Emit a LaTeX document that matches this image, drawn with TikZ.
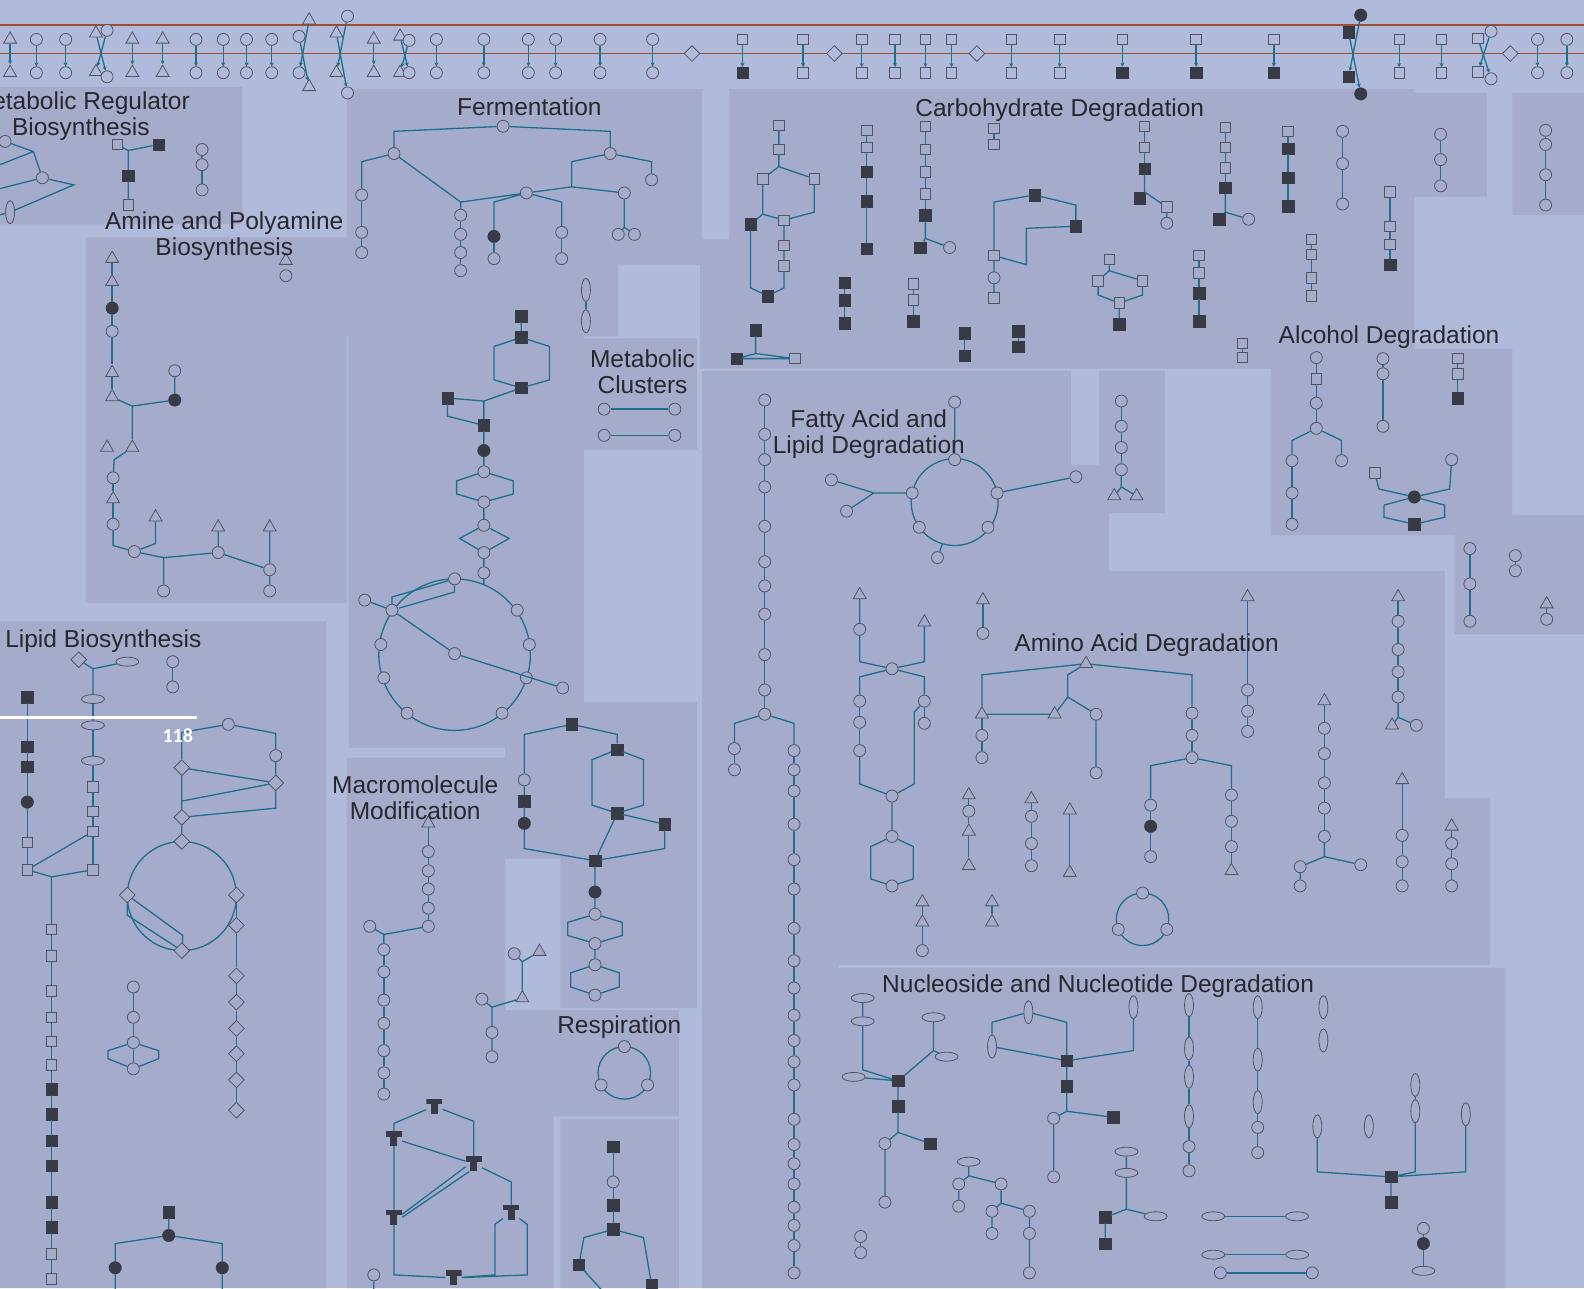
\documentclass[tikz,border=0pt]{standalone}
\usepackage{fontspec}
\setmainfont{Liberation Sans}
\newfontfamily\badgefont{Carlito}
\usetikzlibrary{shapes.geometric, arrows.meta, positioning}

\definecolor{bgc}{RGB}{176,186,219}
\definecolor{panelc}{RGB}{165,172,203}
\definecolor{linkc}{RGB}{30,110,140}
\definecolor{edgec}{RGB}{82,84,98}
\definecolor{darkc}{RGB}{56,58,70}
\definecolor{railc}{RGB}{160,78,48}
\definecolor{labelc}{RGB}{40,40,46}
\colorlet{openc}{panelc}

\tikzset{
  link/.style={draw=linkc, line width=1.3pt},
  rail/.style={draw=railc, line width=1.8pt},
  circ/.style={circle, draw=edgec, fill=openc, line width=.8pt, minimum size=12pt, inner sep=0pt},
  fcirc/.style={circle, draw=darkc, fill=darkc, minimum size=12.5pt, inner sep=0pt},
  sq/.style={rectangle, draw=edgec, fill=openc, line width=.8pt, minimum size=10.5pt, inner sep=0pt},
  fsq/.style={rectangle, draw=darkc, fill=darkc, minimum size=11.5pt, inner sep=0pt},
  tri/.style={regular polygon, regular polygon sides=3, draw=edgec, fill=openc, line width=.8pt, minimum size=15pt, inner sep=0pt},
  dia/.style={diamond, draw=edgec, fill=openc, line width=.8pt, minimum size=16pt, inner sep=0pt},
  hoval/.style={ellipse, draw=edgec, fill=openc, line width=.8pt, minimum width=23pt, minimum height=9pt, inner sep=0pt},
  voval/.style={ellipse, draw=edgec, fill=openc, line width=.8pt, minimum width=9pt, minimum height=23pt, inner sep=0pt},
  tee/.style={rectangle, minimum width=16pt, minimum height=15pt, inner sep=0pt,
    path picture={\fill[darkc] (path picture bounding box.north west) rectangle ([yshift=-5.5pt]path picture bounding box.north east);
                  \fill[darkc] ([xshift=-3.5pt]path picture bounding box.north) rectangle ([xshift=3.5pt]path picture bounding box.south);}},
  grouplabel/.style={font=\fontsize{24.5}{26}\selectfont, text=labelc, align=center, inner sep=0pt},
}

% vertical chain: name, x, list of y/style
\newcommand{\vchain}[3]{%
  \foreach \yy/\ss [count=\ii] in {#3} {%
    \node[\ss] at (#2,\yy) (#1\ii) {};%
    \ifnum\ii>1 \pgfmathtruncatemacro{\hh}{\ii-1}\draw[link] (#1\hh) -- (#1\ii);\fi
  }}

\begin{document}
\begin{tikzpicture}[x=1.0102pt, y=-1.0102pt]

    % Draw the background and the panels
    \useasboundingbox (0,0) rectangle (1568,1275);
    \fill[bgc] (0,0) rectangle (1568,1275);
    \fill[panelc] (0,86) rectangle (240,222)
        (85,235) rectangle (343,597)
        (343,88) rectangle (695,262)
        (343,262) rectangle (612,333)
        (345,290) rectangle (578,740)
        (578,335) rectangle (690,445)
        (0,615) rectangle (323,1275)
        (343,750) rectangle (500,1275)
        (500,1000) rectangle (548,1275)
        (500,695) rectangle (690,850)
        (555,850) rectangle (690,998)
        (548,1000) rectangle (672,1105)
        (555,1108) rectangle (672,1275)
        (722,88) rectangle (1400,365)
        (693,237) rectangle (722,365)
        (1400,92) rectangle (1472,195)
        (1497,92) rectangle (1568,213)
        (695,367) rectangle (1060,565)
        (1060,460) rectangle (1098,565)
        (1088,367) rectangle (1153,508)
        (695,565) rectangle (830,1275)
        (820,565) rectangle (1430,955)
        (1430,790) rectangle (1475,955)
        (830,958) rectangle (1490,1275)
        (1258,345) rectangle (1497,530)
        (1440,510) rectangle (1568,628);

    % Draw the transport rail
    \draw[rail] (0,25) -- (1568,25) (0,53) -- (1568,53);
    \begin{scope}
        \colorlet{openc}{bgc}
        \foreach \px/\pu/\pd in {10/tri/tri, 36/circ/circ, 65/circ/circ, 131/tri/tri, 161/tri/tri,
                194/circ/circ, 221/circ/circ, 244/circ/circ, 269/circ/circ, 370/tri/tri,
                432/circ/circ, 479/circ/circ, 523/circ/circ, 550/circ/circ, 594/circ/circ,
                646/circ/circ, 735/sq/fsq, 795/sq/sq, 853/sq/sq, 886/sq/sq, 916/sq/sq,
                942/sq/sq, 1001/sq/sq, 1049/sq/sq, 1111/sq/fsq, 1184/sq/fsq, 1261/sq/fsq,
                1385/sq/sq, 1427/sq/sq, 1522/circ/circ, 1551/circ/circ} {
            \node[\pu] at (\px,39) (up\px) {};
            \node[\pd] at (\px,72) (dn\px) {};
            \draw[link, -{Stealth[length=4pt, width=4pt]}] (up\px) -- (dn\px);
        }
        \foreach \px in {685,826,967,1495} \node[dia] at (\px,53) (rd\px) {};

        \node[tri] at (95,33) (xa1) {};
        \node[circ] at (106,30) (xa2) {};
        \node[tri] at (95,71) (xa3) {};
        \node[circ] at (106,76) (xa4) {};
        \node[circ] at (296,36) (xb1) {};
        \node[tri] at (306,20) (xb2) {};
        \node[circ] at (296,72) (xb3) {};
        \node[tri] at (306,86) (xb4) {};
        \node[tri] at (333,33) (xc1) {};
        \node[circ] at (344,16) (xc2) {};
        \node[tri] at (333,72) (xc3) {};
        \node[circ] at (344,92) (xc4) {};
        \node[tri] at (396,36) (xd1) {};
        \node[circ] at (405,40) (xd2) {};
        \node[tri] at (396,72) (xd3) {};
        \node[circ] at (405,72) (xd4) {};
        \node[fcirc] at (1347,15) (xe1) {};
        \node[fsq] at (1335,32) (xe2) {};
        \node[fsq] at (1335,76) (xe3) {};
        \node[fcirc] at (1347,93) (xe4) {};
        \node[sq] at (1463,38) (xf1) {};
        \node[circ] at (1476,31) (xf2) {};
        \node[sq] at (1463,71) (xf3) {};
        \node[circ] at (1476,78) (xf4) {};
        \draw[link, -{Stealth[length=4pt, width=4pt]}]
            (xa1) edge (xa4) (xa2) edge (xa3)
            (xb2) edge (xb3) (xb1) edge (xb4)
            (xc1) edge (xc4) (xc2) edge (xc3)
            (xd1) edge (xd4) (xd2) edge (xd3)
            (xe1) edge (xe3) (xe2) edge (xe4)
            (xf1) edge (xf4) (xf2) edge (xf3);
    \end{scope}
    \colorlet{openc}{panelc}

    % Metabolic regulator biosynthesis
    \node[circ] at (5,140) (mr1) {};
    \node[circ] at (42,176) (mr2) {};
    \node[voval] at (10,210) (mr3) {};
    \coordinate (mra) at (33,150);
    \coordinate (mrb) at (-5,165);
    \coordinate (mrc) at (-5,188);
    \coordinate (mrd) at (73,183);
    \coordinate (mre) at (-5,214);
    \draw[link] (mr1) -- (mra) -- (mr2) (mrb) -- (mra) (mrc) -- (mr2) -- (mrd) -- (mr3) -- (mre);
    \node[sq] at (116,143) (mr4) {};
    \node[fsq] at (157,143) (mr5) {};
    \node[fsq] at (127,174) (mr6) {};
    \node[sq] at (127,203) (mr7) {};
    \coordinate (mrt) at (127,149);
    \draw[link] (mr4) -- (mrt) -- (mr5) (mrt) -- (mr6) -- (mr7);
    \vchain{mrv}{200}{148/circ,163/circ,188/circ}

    % Amine and polyamine biosynthesis
    \vchain{pa}{111}{256/tri,279/tri,305/fcirc,328/circ,369/tri,393/tri}
    \coordinate (paj) at (131,402);
    \node[fcirc] at (173,396) (pb1) {};
    \node[circ] at (173,367) (pb2) {};
    \node[tri] at (131,443) (pb3) {};
    \node[tri] at (106,443) (pb4) {};
    \coordinate (pbk) at (113,455);
    \draw[link] (pa6) -- (paj) -- (pb1) -- (pb2) (paj) -- (pb3);
    \vchain{pc}{112}{473/circ,494/tri,519/circ}
    \draw[link] (pb3) -- (pbk) -- (pc1);
    \node[circ] at (133,546) (pd1) {};
    \node[tri] at (154,512) (pd2) {};
    \node[circ] at (216,547) (pd3) {};
    \node[circ] at (162,585) (pd4) {};
    \node[tri] at (216,522) (pd5) {};
    \node[circ] at (267,564) (pd6) {};
    \node[circ] at (267,585) (pd7) {};
    \node[tri] at (267,522) (pd8) {};
    \node[tri] at (283,258) (pd9) {};
    \node[circ] at (283,273) (pd10) {};
    \coordinate (pda) at (112,540);
    \coordinate (pdb) at (154,538);
    \coordinate (pdc) at (162,552);
    \draw[link] (pc3) -- (pda) -- (pd1) -- (pdb) -- (pd2)
        (pd1) -- (pdc) -- (pd3) -- (pd5) (pdc) -- (pd4)
        (pd3) -- (pd6) -- (pd7) (pd8) -- (pd6);

    % Fermentation
    \node[circ] at (498,125) (fe1) {};
    \node[circ] at (390,152) (fe2) {};
    \node[circ] at (604,152) (fe3) {};
    \node[circ] at (645,178) (fe4) {};
    \node[circ] at (521,191) (fe5) {};
    \node[circ] at (618,191) (fe6) {};
    \node[circ] at (612,232) (fe7) {};
    \node[circ] at (628,232) (fe8) {};
    \vchain{fl}{358}{193/circ,230/circ,250/circ}
    \vchain{fm}{456}{213/circ,232/circ,250/circ,268/circ}
    \vchain{fn}{489}{234/fcirc,256/circ}
    \vchain{fo}{556}{230/circ,256/circ}
    \vchain{fv}{580}{287/voval,318/voval}
    \coordinate (fxa) at (390,130);
    \coordinate (fxb) at (604,130);
    \coordinate (fxc) at (358,160);
    \coordinate (fxd) at (456,200);
    \coordinate (fxe) at (489,200);
    \coordinate (fxf) at (556,200);
    \coordinate (fxg) at (566,160);
    \coordinate (fxh) at (566,185);
    \coordinate (fxi) at (645,160);
    \coordinate (fxj) at (618,225);
    \draw[link] (fe2) -- (fxa) -- (fe1) -- (fxb) -- (fe3)
        (fe2) -- (fxc) -- (fl1)
        (fe2) -- (fxd) -- (fm1)
        (fxd) -- (fe5) -- (fxe) -- (fn1)
        (fe5) -- (fxf) -- (fo1)
        (fe5) -- (fxh) -- (fe6)
        (fe3) -- (fxg) -- (fxh)
        (fe3) -- (fxi) -- (fe4)
        (fe6) -- (fxj) -- (fe7) (fxj) -- (fe8);

    % Ring pathway under fermentation
    \draw[link] (450,648) circle (75);
    \node[fsq] at (516,313) (bc1) {};
    \node[fsq] at (516,334) (bc2) {};
    \node[fsq] at (516,384) (bc3) {};
    \node[fsq] at (443,394) (bc4) {};
    \node[fsq] at (479,421) (bc5) {};
    \node[fcirc] at (479,446) (bd1) {};
    \node[circ] at (479,467) (bd2) {};
    \node[circ] at (479,497) (bd3) {};
    \node[circ] at (479,520) (bd4) {};
    \node[circ] at (479,547) (bd5) {};
    \node[circ] at (479,567) (bd6) {};
    \coordinate (bcj) at (479,397);
    \coordinate (bcq) at (443,412);
    \coordinate (bdr) at (479,579);
    \draw[link] (bc1) -- (bc2) -- (489,343) -- (489,376) -- (bc3)
        (bc2) -- (544,343) -- (544,376) -- (bc3)
        (bc3) -- (bcj) (bc4) -- (bcj) -- (bc5) (bc4) -- (bcq) -- (bc5)
        (bc5) -- (bd1) -- (bd2)
        (bd2) -- (452,476) -- (452,489) -- (bd3)
        (bd2) -- (508,476) -- (508,489) -- (bd3)
        (bd3) -- (bd4)
        (bd4) -- (455,533) -- (bd5) (bd4) -- (504,533) -- (bd5)
        (bd5) -- (bd6) -- (bdr);
    \node[circ] at (450,573) (br1) {};
    \node[circ] at (388,604) (br2) {};
    \node[circ] at (377,638) (br3) {};
    \node[circ] at (380,671) (br4) {};
    \node[circ] at (403,706) (br5) {};
    \node[circ] at (497,706) (br6) {};
    \node[circ] at (521,671) (br7) {};
    \node[circ] at (524,638) (br8) {};
    \node[circ] at (512,604) (br9) {};
    \node[circ] at (361,594) (br10) {};
    \node[circ] at (450,647) (br11) {};
    \node[circ] at (557,681) (br12) {};
    \draw[link] (br1) -- (388,591) -- (br2) (br1) -- (450,586) -- (395,602)
        (br10) -- (br2) -- (br11) -- (br12);

    % Metabolic clusters
    \node[circ] at (598,405) (mc1) {};
    \node[circ] at (668,405) (mc2) {};
    \node[circ] at (598,431) (mc3) {};
    \node[circ] at (668,431) (mc4) {};
    \draw[link] (mc1) -- (mc2) (mc3) -- (mc4);

    % Square pathway and respiration
    \node[fsq] at (566,717) (sp1) {};
    \node[fsq] at (611,742) (sp2) {};
    \node[fsq] at (611,805) (sp3) {};
    \node[circ] at (519,772) (sp4) {};
    \node[fsq] at (519,793) (sp5) {};
    \node[fcirc] at (519,815) (sp6) {};
    \node[fsq] at (658,816) (sp7) {};
    \node[fsq] at (589,852) (sp8) {};
    \node[fcirc] at (589,883) (sp9) {};
    \node[circ] at (589,905) (sp10) {};
    \node[circ] at (589,934) (sp11) {};
    \node[circ] at (589,955) (sp12) {};
    \node[circ] at (589,985) (sp13) {};
    \draw[link] (sp4) -- (519,727) -- (sp1) -- (611,727) -- (sp2)
        (sp2) -- (586,752) -- (586,797) -- (sp3)
        (sp2) -- (637,752) -- (637,797) -- (sp3)
        (sp4) -- (sp5) -- (sp6) -- (519,840) -- (sp8)
        (sp3) -- (sp8) (sp3) -- (sp7) -- (658,840) -- (sp8)
        (sp8) -- (sp9) -- (sp10)
        (sp10) -- (562,913) -- (562,926) -- (sp11)
        (sp10) -- (616,913) -- (616,926) -- (sp11)
        (sp11) -- (sp12)
        (sp12) -- (565,963) -- (565,977) -- (sp13)
        (sp12) -- (613,963) -- (613,977) -- (sp13);
    \draw[link] (618,1062) circle (26);
    \node[circ] at (618,1036) (rs1) {};
    \node[circ] at (595,1074) (rs2) {};
    \node[circ] at (641,1074) (rs3) {};
    \vchain{bm}{607}{1135/fsq,1170/circ,1193/fsq,1217/fsq}
    \node[fsq] at (573,1252) (bm5) {};
    \node[fsq] at (645,1272) (bm6) {};
    \coordinate (bmx) at (600,1282);
    \draw[link] (bm4) -- (578,1225) -- (bm5) -- (bmx) (bm4) -- (637,1225) -- (bm6);

    % Macromolecule modification
    \vchain{mm}{424}{815/tri,843/circ,862/circ,880/circ,899/circ,917/circ}
    \node[circ] at (366,917) (mn0) {};
    \coordinate (mmj) at (380,925);
    \vchain{mn}{380}{940/circ,962/circ,990/circ,1013/circ,1040/circ,1062/circ,1083/circ}
    \draw[link] (mm6) -- (mmj) (mn0) -- (mmj) -- (mn1);
    \node[circ] at (509,944) (mq1) {};
    \node[tri] at (534,942) (mq2) {};
    \node[tri] at (517,988) (mq3) {};
    \node[circ] at (477,989) (mq4) {};
    \node[circ] at (487,1022) (mq5) {};
    \node[circ] at (487,1046) (mq6) {};
    \coordinate (mqa) at (517,952);
    \coordinate (mqb) at (487,997);
    \draw[link] (mq1) -- (mqa) -- (mq2) (mqa) -- (mq3) -- (mqb) (mq4) -- (mqb) -- (mq5) -- (mq6);
    \node[tee] at (430,1095) (mt1) {};
    \node[tee] at (390,1127) (mt2) {};
    \node[tee] at (469,1152) (mt3) {};
    \node[tee] at (390,1205) (mt4) {};
    \node[tee] at (506,1200) (mt5) {};
    \node[tee] at (449,1265) (mt6) {};
    \node[circ] at (370,1262) (mt7) {};
    \coordinate (mtx) at (370,1282);
    \draw[link] (mt2) -- (390,1112) -- (mt1) -- (469,1110) -- (mt3)
        (mt2) -- (mt3) (mt2) -- (mt4)
        (mt3.200) -- (mt4.20) (mt3.240) -- (mt4.0)
        (mt3) -- (506,1170) -- (mt5)
        (mt4) -- (390,1262) -- (mt6)
        (mt5) -- (490,1212) -- (490,1262) -- (mt6)
        (mt5) -- (522,1212) -- (522,1262) -- (mt6)
        (mt7) -- (mtx);

    % Lipid biosynthesis
    \node[dia] at (78,653) (lp1) {};
    \node[hoval] at (126,655) (lp2) {};
    \coordinate (lpj) at (92,662);
    \vchain{lq}{92}{692/hoval,718/hoval,753/hoval,779/sq,803/sq,823/sq,861/sq}
    \draw[link] (lp1) -- (lpj) -- (lp2) (lpj) -- (lq1);
    \vchain{lr}{27}{690/fsq,739/fsq,759/fsq,794/fcirc,834/sq,861/sq}
    \coordinate (lrj) at (51,868);
    \vchain{ls}{51}{920/sq,946/sq,981/sq,1007/sq,1031/sq,1054/sq,1078/fsq,1103/fsq,1129/fsq,1154/fsq,1190/fsq,1215/fsq,1241/sq,1266/sq}
    \draw[link] (lr6) -- (lq6) (lr6) -- (lrj) -- (lq7) (lrj) -- (ls1);
    \vchain{lt}{171}{655/circ,680/circ}
    \draw[link] (180,887) circle (54);
    \node[circ] at (226,717) (lu1) {};
    \node[circ] at (273,748) (lu2) {};
    \node[dia] at (273,775) (lu3) {};
    \node[dia] at (180,760) (lu4) {};
    \node[dia] at (180,809) (lu5) {};
    \node[dia] at (180,833) (lu6) {};
    \node[dia] at (126,886) (lu7) {};
    \node[dia] at (180,941) (lu8) {};
    \vchain{lv}{234}{886/dia,916/dia,966/dia,992/dia,1018/dia,1043/dia,1069/dia,1099/dia}
    \coordinate (lua) at (180,725);
    \coordinate (lub) at (273,726);
    \coordinate (luc) at (180,793);
    \coordinate (lud) at (273,800);
    \draw[link] (lua) -- (lu1) -- (lub) -- (lu2) -- (lu3)
        (lua) -- (lu4) -- (luc) -- (lu5) -- (lu6)
        (lu4) -- (lu3) (luc) -- (lu3) (lu5) -- (lud) -- (lu3)
        (lu7) -- (126,906) -- (lu8) (lu7) -- (181,926) -- (lu8);
    \vchain{lw}{132}{977/circ,1007/circ,1032/circ,1058/circ}
    \draw[link] (lw3) -- (107,1040) -- (107,1048) -- (lw4) (lw3) -- (157,1040) -- (157,1048) -- (lw4);
    \node[fsq] at (167,1200) (lx1) {};
    \node[fcirc] at (167,1223) (lx2) {};
    \node[fcirc] at (114,1255) (lx3) {};
    \node[fcirc] at (220,1255) (lx4) {};
    \coordinate (lxa) at (114,1282);
    \coordinate (lxb) at (220,1282);
    \draw[link] (lx1) -- (lx2) -- (114,1231) -- (lx3) -- (lxa) (lx2) -- (220,1231) -- (lx4) -- (lxb);
    \draw[white, line width=2.5pt] (0,710) -- (195,710);
    \node[font=\badgefont\bfseries\fontsize{20}{20}\selectfont, text=white, inner sep=0pt] at (176,728) (badge) {118};

    % Carbohydrate degradation
    \node[sq] at (771,124) (ca1) {};
    \node[sq] at (771,148) (ca2) {};
    \node[sq] at (755,177) (ca3) {};
    \node[sq] at (806,177) (ca4) {};
    \node[fsq] at (743,222) (ca5) {};
    \node[sq] at (776,218) (ca6) {};
    \node[sq] at (776,243) (ca7) {};
    \node[sq] at (776,263) (ca8) {};
    \node[fsq] at (760,293) (ca9) {};
    \coordinate (caj) at (771,165);
    \coordinate (cak) at (755,212);
    \draw[link] (ca1) -- (ca2) -- (caj) -- (ca3) (caj) -- (ca4)
        (ca3) -- (cak) -- (ca6) (ca4) -- (806,210) -- (ca6) (cak) -- (ca5)
        (ca5) -- (743,285) -- (ca9) (ca6) -- (ca7) -- (ca8) -- (776,285) -- (ca9);
    \vchain{cb}{858}{129/sq,146/sq,170/fsq,199/fsq,246/fsq}
    \vchain{cc}{916}{125/sq,148/sq,170/sq,192/sq,213/fsq}
    \node[fsq] at (911,245) (cc6) {};
    \node[circ] at (940,245) (cc7) {};
    \coordinate (ccj) at (916,236);
    \draw[link] (cc5) -- (ccj) -- (cc6) (ccj) -- (cc7);
    \vchain{cd}{984}{127/sq,143/sq}
    \node[fsq] at (1024,193) (ce1) {};
    \node[fsq] at (1065,224) (ce2) {};
    \node[sq] at (984,253) (ce3) {};
    \node[circ] at (984,275) (ce4) {};
    \node[sq] at (984,295) (ce5) {};
    \draw[link] (ce3) -- (984,200) -- (ce1) -- (1065,203) -- (ce2) -- (1016,226) -- (1016,262) -- (ce3)
        (ce3) -- (ce4) -- (ce5);
    \vchain{cf}{1133}{125/sq,146/sq,167/fsq}
    \node[fsq] at (1128,196) (cf4) {};
    \node[sq] at (1155,205) (cf5) {};
    \node[circ] at (1155,221) (cf6) {};
    \coordinate (cfj) at (1133,190);
    \draw[link] (cf3) -- (cfj) -- (cf4) (cfj) -- (cf5) -- (cf6);
    \vchain{cg}{1213}{126/sq,146/sq,166/sq,186/fsq}
    \node[fsq] at (1207,217) (cg5) {};
    \node[circ] at (1236,217) (cg6) {};
    \coordinate (cgj) at (1213,210);
    \draw[link] (cg4) -- (cgj) -- (cg5) (cgj) -- (cg6);
    \vchain{ch}{1275}{130/sq,147/fsq,176/fsq,204/fsq}
    \vchain{ci}{1329}{130/circ,162/circ,202/circ}
    \vchain{cj}{1376}{190/sq,224/sq,242/sq,262/fsq}
    \vchain{ck}{1298}{237/sq,252/sq,275/sq,293/sq}
    \vchain{cl}{1187}{253/sq,270/sq,290/fsq,318/fsq}
    \node[sq] at (1098,257) (cm1) {};
    \node[sq] at (1087,278) (cm2) {};
    \node[sq] at (1131,278) (cm3) {};
    \node[sq] at (1108,300) (cm4) {};
    \node[fsq] at (1108,321) (cm5) {};
    \coordinate (cmj) at (1098,268);
    \draw[link] (cm1) -- (cmj) -- (cm2) (cmj) -- (cm3)
        (cm2) -- (1087,292) -- (cm4) (cm3) -- (1131,292) -- (cm4) (cm4) -- (cm5);
    \vchain{cn}{836}{280/fsq,297/fsq,320/fsq}
    \vchain{co}{904}{281/sq,297/sq,318/fsq}
    \node[fsq] at (748,327) (cp1) {};
    \node[fsq] at (729,355) (cp2) {};
    \node[sq] at (787,355) (cp3) {};
    \coordinate (cpj) at (748,350);
    \draw[link] (cp1) -- (cpj) -- (cp2) (cpj) -- (cp3) (cp2) -- (cp3);
    \vchain{cq}{955}{330/fsq,352/fsq}
    \vchain{cr}{1008}{328/fsq,343/fsq}
    \vchain{cs}{1230}{340/sq,354/sq}
    \vchain{rp}{1426}{133/circ,158/circ,184/circ}
    \vchain{rq}{1530}{129/circ,143/circ,173/circ,203/circ}

    % Alcohol degradation
    \vchain{ha}{1303}{354/circ,375/sq,399/circ,424/circ}
    \vchain{hb}{1279}{456/circ,488/circ,519/circ}
    \node[circ] at (1328,456) (hb4) {};
    \draw[link] (ha4) -- (1279,436) -- (hb1) (ha4) -- (1328,436) -- (hb4);
    \vchain{hc}{1369}{355/circ,370/circ,422/circ}
    \vchain{hd}{1443}{355/sq,370/sq,394/fsq}
    \node[sq] at (1361,468) (he1) {};
    \node[circ] at (1437,455) (he2) {};
    \node[fcirc] at (1400,492) (he3) {};
    \node[fsq] at (1400,519) (he4) {};
    \draw[link] (he1) -- (1365,484) -- (he3) -- (1430,500) -- (1430,512) -- (he4)
        (he2) -- (1435,484) -- (he3) -- (1370,500) -- (1370,512) -- (he4);
    \vchain{ra}{1455}{543/circ,578/circ,615/circ}
    \vchain{rb}{1500}{550/circ,565/circ}
    \vchain{rc}{1531}{598/tri,613/circ}

    % Fatty acid and lipid degradation
    \vchain{ta}{757}{396/circ,430/circ,455/circ,482/circ,521/circ,556/circ,580/circ,608/circ,648/circ,683/circ,707/circ}
    \vchain{tb}{727}{741/circ,762/circ}
    \vchain{tc}{786}{743/circ,762/circ,783/circ,816/circ,851/circ,880/circ,919/circ,951/circ,978/circ,1005/circ,1030/circ,1051/circ,1074/circ,1108/circ,1133/circ,1152/circ,1172/circ,1195/circ,1213/circ,1233/circ,1260/circ}
    \draw[link] (ta11) -- (727,716) -- (tb1) (ta11) -- (786,716) -- (tc1);
    \draw[link] (945,497) circle (43);
    \node[circ] at (945,455) (tr1) {};
    \node[circ] at (903,488) (tr2) {};
    \node[circ] at (987,488) (tr3) {};
    \node[circ] at (910,522) (tr4) {};
    \node[circ] at (978,522) (tr5) {};
    \node[circ] at (945,398) (tr6) {};
    \node[circ] at (823,475) (tr7) {};
    \node[circ] at (838,506) (tr8) {};
    \node[circ] at (1065,472) (tr9) {};
    \node[circ] at (928,552) (tr10) {};
    \coordinate (trj) at (865,488);
    \coordinate (trk) at (933,538);
    \draw[link] (tr6) -- (tr1) (tr7) -- (trj) -- (tr2) (tr8) -- (trj)
        (tr3) -- (tr9) (tr10) -- (trk);
    \vchain{ts}{1110}{397/circ,422/circ,443/circ,465/circ}
    \node[tri] at (1103,491) (ts5) {};
    \node[tri] at (1125,491) (ts6) {};
    \coordinate (tsj) at (1110,482);
    \draw[link] (ts4) -- (tsj) -- (ts5) (tsj) -- (ts6);

    % Amino acid degradation
    \node[tri] at (851,589) (aa1) {};
    \node[circ] at (851,623) (aa2) {};
    \node[tri] at (915,616) (aa3) {};
    \node[circ] at (883,662) (aa4) {};
    \vchain{ab}{851}{694/circ,715/circ,743/circ}
    \vchain{ac}{915}{694/circ,716/circ}
    \node[circ] at (883,788) (aa5) {};
    \node[circ] at (883,828) (aa6) {};
    \node[circ] at (883,877) (aa7) {};
    \draw[link] (aa1) -- (aa2) -- (851,655) -- (aa4) (aa3) -- (915,655) -- (aa4)
        (aa4) -- (851,670) -- (ab1) (aa4) -- (915,670) -- (ac1)
        (ab3) -- (851,776) -- (aa5) (ac1) -- (905,705) -- (905,776) -- (aa5)
        (aa5) -- (aa6)
        (aa6) -- (862,838) -- (862,870) -- (aa7) (aa6) -- (904,838) -- (904,870) -- (aa7);
    \vchain{ad}{973}{594/tri,627/circ}
    \node[tri] at (1075,657) (ae1) {};
    \node[tri] at (1044,707) (ae2) {};
    \node[circ] at (1085,707) (ae3) {};
    \node[circ] at (1085,765) (ae4) {};
    \vchain{af}{972}{707/tri,728/circ,750/circ}
    \vchain{ag}{1180}{706/circ,728/circ,750/circ}
    \vchain{ah}{1139}{797/circ,818/fcirc,848/circ}
    \vchain{ai}{1219}{787/circ,813/circ,838/circ,862/tri}
    \coordinate (aej) at (1057,690);
    \draw[link] (ae1) -- (972,668) -- (af1) (af1) -- (ae2)
        (ae1) -- (1057,668) -- (aej) -- (ae2) (aej) -- (ae3) -- (ae4)
        (ae1) -- (1180,668) -- (ag1)
        (ag3) -- (1139,758) -- (ah1) (ag3) -- (1219,758) -- (ai1);
    \vchain{aj}{1235}{591/tri,683/circ,704/circ,724/circ}
    \vchain{ak}{1311}{694/tri,721/circ,746/circ,775/circ,800/circ,828/circ}
    \node[circ] at (1287,858) (ak7) {};
    \node[circ] at (1287,877) (ak8) {};
    \node[circ] at (1347,856) (ak9) {};
    \draw[link] (ak6) -- (1311,848) -- (ak7) -- (ak8) (1311,848) -- (ak9);
    \vchain{al}{1384}{591/tri,615/circ,643/circ,665/circ,690/circ}
    \node[tri] at (1378,718) (al6) {};
    \node[circ] at (1402,718) (al7) {};
    \draw[link] (al5) -- (1384,710) -- (al6) (1384,710) -- (al7);
    \vchain{am}{1388}{772/tri,827/circ,853/circ,877/circ}
    \vchain{an}{1437}{818/tri,835/circ,855/circ,877/circ}
    \vchain{ao}{959}{787/tri,803/circ,823/tri,857/tri}
    \vchain{ap}{1021}{791/tri,808/circ,835/circ,857/circ}
    \vchain{aq}{1059}{802/tri,864/tri}
    \vchain{ar}{913}{893/tri,913/tri,941/circ}
    \vchain{as}{982}{893/tri,913/tri}
    \draw[link] (1131,910) circle (26);
    \node[circ] at (1131,884) (at1) {};
    \node[circ] at (1107,920) (at2) {};
    \node[circ] at (1155,920) (at3) {};

    % Nucleoside and nucleotide degradation
    \node[hoval] at (854,988) (na1) {};
    \node[hoval] at (854,1011) (na2) {};
    \node[hoval] at (845,1066) (na3) {};
    \node[fsq] at (889,1070) (na4) {};
    \node[fsq] at (889,1095) (na5) {};
    \node[circ] at (876,1132) (na6) {};
    \node[fsq] at (921,1132) (na7) {};
    \node[circ] at (876,1190) (na8) {};
    \node[hoval] at (924,1007) (na9) {};
    \node[hoval] at (937,1046) (na10) {};
    \draw[link] (na1) -- (na2) -- (854,1059) -- (na4) (na3) -- (na4)
        (na4) -- (924,1040) -- (na9) (924,1040) -- (na10)
        (na4) -- (na5) -- (889,1121) -- (na6) -- (na8) (889,1121) -- (na7);
    \node[voval] at (1018,1002) (nb1) {};
    \node[voval] at (982,1036) (nb2) {};
    \node[fsq] at (1056,1050) (nb3) {};
    \node[fsq] at (1056,1075) (nb4) {};
    \node[circ] at (1043,1107) (nb5) {};
    \node[fsq] at (1102,1106) (nb6) {};
    \node[circ] at (1043,1165) (nb7) {};
    \node[voval] at (1122,997) (nb8) {};
    \draw[link] (nb1) -- (982,1012) -- (nb2) -- (nb3) (nb1) -- (1056,1012) -- (nb3)
        (nb8) -- (1122,1040) -- (nb3)
        (nb3) -- (nb4) -- (1056,1100) -- (nb5) -- (nb7) (1056,1100) -- (nb6);
    \node[hoval] at (959,1150) (nc1) {};
    \node[circ] at (949,1172) (nc2) {};
    \node[circ] at (949,1194) (nc3) {};
    \node[circ] at (991,1172) (nc4) {};
    \node[circ] at (982,1199) (nc5) {};
    \node[circ] at (982,1221) (nc6) {};
    \node[circ] at (1019,1199) (nc7) {};
    \node[circ] at (1019,1221) (nc8) {};
    \node[circ] at (1019,1260) (nc9) {};
    \draw[link] (nc1) -- (959,1164) -- (nc2) -- (nc3) (959,1164) -- (nc4) -- (991,1191) -- (nc5) -- (nc6)
        (991,1191) -- (nc7) -- (nc8) -- (nc9);
    \node[hoval] at (1115,1140) (nd1) {};
    \node[hoval] at (1115,1161) (nd2) {};
    \node[fsq] at (1094,1205) (nd3) {};
    \node[fsq] at (1094,1231) (nd4) {};
    \node[hoval] at (1144,1204) (nd5) {};
    \draw[link] (nd1) -- (nd2) -- (1115,1197) -- (nd3) -- (nd4) (1115,1197) -- (nd5);
    \vchain{ne}{852}{1224/circ,1240/circ}
    \vchain{nf}{1177}{995/voval,1038/voval,1066/voval,1105/voval,1135/circ,1159/circ}
    \vchain{ng}{1245}{997/voval,1049/voval,1091/voval,1116/circ,1141/circ}
    \node[hoval] at (1201,1204) (nh1) {};
    \node[hoval] at (1284,1204) (nh2) {};
    \node[hoval] at (1201,1242) (nh3) {};
    \node[hoval] at (1284,1242) (nh4) {};
    \node[circ] at (1208,1260) (nh5) {};
    \node[circ] at (1299,1260) (nh6) {};
    \draw[link] (nh1) -- (nh2) (nh3) -- (nh4) (nh5) -- (nh6);
    \node[voval] at (1310,997) (ni1) {};
    \node[voval] at (1310,1030) (ni2) {};
    \node[voval] at (1304,1115) (nj1) {};
    \node[voval] at (1355,1115) (nj2) {};
    \node[voval] at (1401,1074) (nj3) {};
    \node[voval] at (1401,1100) (nj4) {};
    \node[voval] at (1451,1103) (nj5) {};
    \node[fsq] at (1377,1165) (nj6) {};
    \node[fsq] at (1377,1190) (nj7) {};
    \draw[link] (nj1) -- (1304,1160) -- (nj6) (nj5) -- (1451,1160) -- (nj6)
        (nj3) -- (nj4) -- (1401,1160) -- (nj6) (nj6) -- (nj7);
    \vchain{nk}{1409}{1216/circ,1231/fcirc,1258/hoval}

    % Draw the group labels
    \node[grouplabel] at (80,115) (lbreg) {Metabolic Regulator\\Biosynthesis};
    \node[grouplabel] at (524,106) (lbferm) {Fermentation};
    \node[grouplabel] at (1049,109) (lbcarb) {Carbohydrate Degradation};
    \node[grouplabel] at (222,234) (lbamine) {Amine and Polyamine\\Biosynthesis};
    \node[grouplabel] at (636,368) (lbclus) {Metabolic\\Clusters};
    \node[grouplabel] at (860,430) (lbfat) {Fatty Acid and\\Lipid Degradation};
    \node[grouplabel] at (1375,334) (lbalc) {Alcohol Degradation};
    \node[grouplabel, anchor=west] at (5,635) (lblip) {Lipid Biosynthesis};
    \node[grouplabel] at (1135,639) (lbamino) {Amino Acid Degradation};
    \node[grouplabel] at (411,790) (lbmacro) {Macromolecule\\Modification};
    \node[grouplabel] at (613,1017) (lbresp) {Respiration};
    \node[grouplabel] at (1087,976) (lbnuc) {Nucleoside and Nucleotide Degradation};
\end{tikzpicture}
\end{document}
